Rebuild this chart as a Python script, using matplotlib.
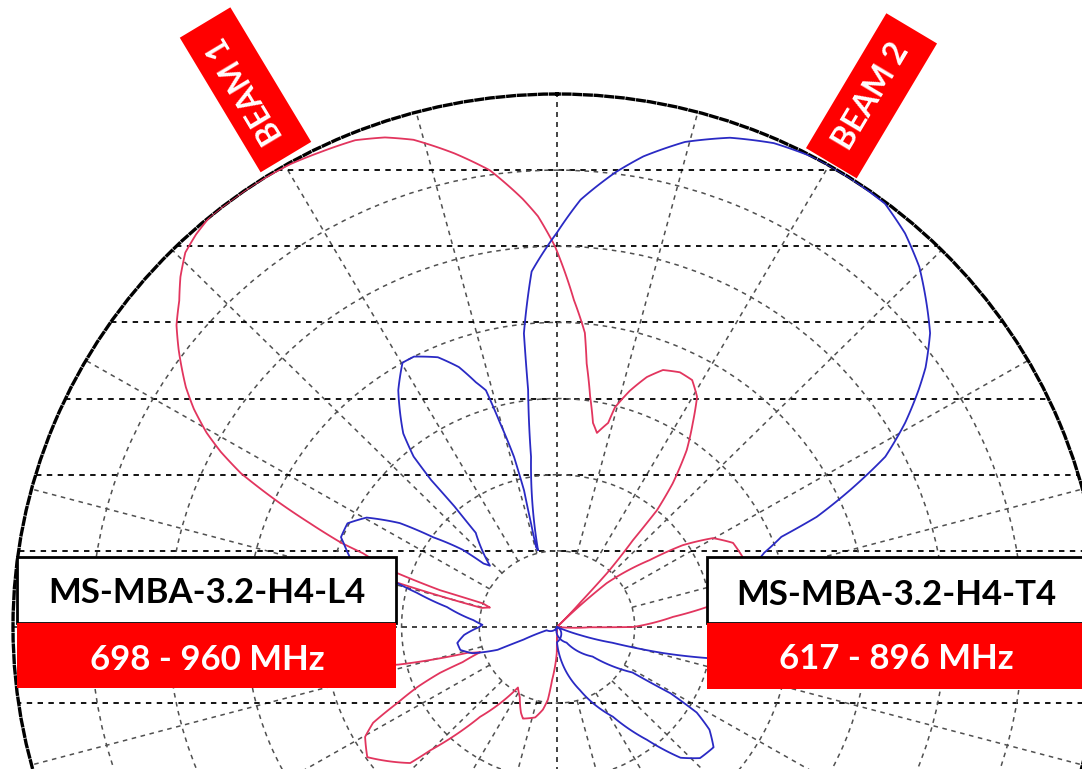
import numpy as np
import matplotlib
matplotlib.use("Agg")
import matplotlib.pyplot as plt
from matplotlib.patches import Rectangle

# ---------------- data: relative gain (dB) vs azimuth (deg, clockwise from boresight) -------------
beam1_az = [-180, -179.5, -174.8, -173, -170.5, -166.7, -160, -157.7, -152.6, -147.7,
            -140, -134.8, -133.4, -125, -120.3, -118, -115.9, -113.7, -111.8, -110.8,
            -108.5, -106.4, -103.6, -100, -92, -85, -79, -74.2, -75.5, -73.5,
            -72, -72.2, -71, -68.8, -68.3, -66.8, -65.3, -63.6, -62, -60.5,
            -58.5, -56.6, -53.2, -51, -48.6, -46.5, -44.2, -42, -39.6, -36.5,
            -34, -29.4, -26, -22.1, -19, -16.1, -12, -8.2, -4.5, -2.6,
            -0.3, 2.9, 5.3, 6.3, 8.0, 9.8, 11.4, 13.8, 14.5, 16.8,
            19.4, 22, 25.3, 28.2, 30.8, 33.1, 35.7, 38.3, 40, 40.6,
            42.3, 43, 45, 48, 53.6, 56.4, 59.8, 64, 69, 73,
            78, 82.3, 84.9, 90, 90.5, 95, 180]
beam1_db = [-35, -33.3, -31.5, -30.2, -29.5, -28.9, -28.6, -28.9, -29.8, -30.3,
            -27.3, -23.5, -22.0, -20.1, -20.7, -21.6, -23.6, -25.2, -26.9, -28.5,
            -29.8, -29.0, -24.5, -21.0, -19.3, -20.3, -22.4, -24.4, -30.0, -30.5,
            -30.0, -27.1, -24.1, -21.6, -20.1, -17.7, -15.1, -12.3, -10.5, -9.1,
            -7.6, -6.4, -4.6, -3.5, -2.6, -1.6, -0.7, -0.3, 0, 0,
            0, -0.1, -0.3, -0.5, -1.0, -1.7, -3.2, -4.7, -6.8, -8.0,
            -10.0, -13.5, -15.6, -17.6, -19.7, -21.4, -22.0, -21.2, -20.1, -18.8,
            -17.6, -16.8, -16.5, -16.6, -17.4, -19.0, -20.7, -23.0, -25.0, -27.5,
            -30.2, -32.8, -35, -30.7, -27.6, -25.3, -23.4, -22.4, -22.2, -22.0,
            -23.4, -25.3, -27.5, -30.1, -32.9, -35, -35]

beam2_az = [-13.6, -8.5, -6.8, -6.3, -4.0, 0, 3.1, 7.2, 10.2, 14.5,
            19.1, 23.7, 28.4, 32.5, 37.2, 40.9, 44.6, 47.9, 51.2, 54.3,
            56.2, 59.1, 62.1, 64.5, 66.6, 67.7, 69.9, 75, 82, 90,
            97, 101.9, 104.1, 106.2, 109.6, 113, 180, 168, 160.4, 148.6,
            142, 137.2, 133.1, 128.1, 124.5, 122, 120.8, 121.6, 130.3, 149,
            200, 252, 249, 248.6, 252.4, 256.4, 260.7, 265, 270, 271.7,
            274.8, 280.5, 284, 285.7, 287.5, 289, 291.9, 293, 296.8, 300.4,
            304, 306.5, 309.9, 311.4, 313, 319.8, 320.2, 320, 320.5, 322.1,
            326.7, 330.2, 332.6, 336.6, 339.7, 342, 343.6, 344.7, 346.1, 346.7,
            346.2, 345.6, 346.4]
beam2_db = [-29.8, -23.7, -19.3, -15.6, -11.6, -9.1, -6.9, -4.9, -3.6, -2.1,
            -1.0, -0.3, 0, 0, -0.1, -0.8, -1.8, -3.0, -4.2, -5.8,
            -7.0, -8.9, -11.1, -14.1, -16.8, -19.4, -20.8, -22.8, -23.5, -23.5,
            -24.2, -25.1, -28.0, -31.3, -33.4, -35, -34.0, -31.9, -30.6, -28.1,
            -25.6, -23.3, -22.4, -22.2, -23.1, -24.4, -26.5, -29.3, -32.0, -33.8,
            -35, -34.3, -32.7, -30.9, -29.3, -28.6, -28.5, -29.0, -30.0, -30.2,
            -29.6, -27.8, -25.7, -24.3, -22.4, -20.9, -20.2, -19.9, -19.9, -20.8,
            -22.8, -25.1, -27.1, -28.7, -29.1, -26.9, -24.7, -22.4, -20.5, -18.9,
            -16.4, -15.0, -15.0, -15.7, -16.8, -18.1, -18.8, -21.1, -23.5, -25.8,
            -28.0, -29.6, -29.8]

ring_db = [-30, -25, -20, -15, -10, -5]
db_min, db_max = -35, 0
spoke_step_deg = 15
hline_levels = [6, 5, 4, 3, 2, 1, -1]      # horizontal guide lines, in ring units
n_rings = 7

beam_labels = ["BEAM 1", "BEAM 2"]
left_model, left_band = "MS-MBA-3.2-H4-L4", "698 - 960 MHz"
right_model, right_band = "MS-MBA-3.2-H4-T4", "617 - 896 MHz"

# ---------------- figure ----------------
W, H = 1082, 769
fig = plt.figure(figsize=(W / 100, H / 100), dpi=100)
fig.patch.set_facecolor("white")

cx, cy, rx, ry = 557, 627, 544, 533
ax = fig.add_axes([(cx - rx) / W, (H - cy - ry) / H, 2 * rx / W, 2 * ry / H],
                  projection="polar")
ax.set_aspect("auto")
ax.set_theta_zero_location("N")
ax.set_theta_direction(-1)
ax.set_ylim(db_min, db_max)
ax.set_thetagrids(np.arange(0, 360, spoke_step_deg))
ax.set_xticklabels([])
ax.set_rgrids(ring_db)
ax.set_yticklabels([])
ax.tick_params(length=0)
ax.xaxis.grid(False)
ax.yaxis.grid(True, color="#505050", linestyle=(0, (3, 3)), linewidth=1.1)
sp = ax.spines["polar"]
sp.set_linestyle((0, (2.0, 1.2)))
sp.set_linewidth(2.4)
sp.set_edgecolor("black")

GRID_DASH = (0, (3, 3))
# spokes (cardinal ones run through the centre, others start at the first ring)
for a in np.arange(0, 360, spoke_step_deg):
    r0 = db_min if a % 90 == 0 else ring_db[0]
    col = "#222222" if a % 90 == 0 else "#505050"
    ax.plot([np.deg2rad(a)] * 2, [r0, db_max], color=col, linestyle=GRID_DASH,
            linewidth=1.2 if a % 90 == 0 else 1.1, zorder=1)

# horizontal guide lines
for k in hline_levels:
    h = abs(k) / n_rings
    a = np.arccos(h)
    th = np.linspace(-a, a, 400)
    if k < 0:
        th = th + np.pi
    rf = h / np.abs(np.cos(th))
    ax.plot(th, db_min + (db_max - db_min) * rf, color="black",
            linestyle=GRID_DASH, linewidth=1.3, zorder=1)

# patterns (segments interpolated in angle/level space, as on a pattern plotter)
for az, db, col in [(beam1_az, beam1_db, "#e2355e"), (beam2_az, beam2_db, "#2a2ac4")]:
    ln, = ax.plot(np.deg2rad(az), db, color=col, linewidth=1.3, zorder=3)
    ln.get_path()._interpolation_steps = 24

RED = "#ff0000"
FONT = ["Lato", "DejaVu Sans"]

def img_rect(x0, y0, x1, y1, **kw):
    fig.add_artist(Rectangle((x0 / W, 1 - y1 / H), (x1 - x0) / W, (y1 - y0) / H,
                             transform=fig.transFigure, **kw))

# left box
img_rect(17, 557, 396, 623, facecolor="white", edgecolor="black", linewidth=2, zorder=5)
img_rect(17, 623, 396, 688, facecolor=RED, edgecolor="none", zorder=5)
fig.text(207 / W, 1 - 603 / H, left_model, ha="center", va="baseline",
         fontsize=25, fontweight="bold", family=FONT, color="black", zorder=6)
fig.text(207 / W, 1 - 670 / H, left_band, ha="center", va="baseline",
         fontsize=25, fontweight="bold", family=FONT, color="white", zorder=6)

# right box
img_rect(707, 557, 1100, 623, facecolor="white", edgecolor="black", linewidth=2, zorder=5)
img_rect(707, 623, 1100, 689, facecolor=RED, edgecolor="none", zorder=5)
fig.text(896 / W, 1 - 605 / H, right_model, ha="center", va="baseline",
         fontsize=25, fontweight="bold", family=FONT, color="black", zorder=6)
fig.text(896 / W, 1 - 669 / H, right_band, ha="center", va="baseline",
         fontsize=25, fontweight="bold", family=FONT, color="white", zorder=6)

# beam tabs
tabs = [(245.5, 89.8, 121.0), (871.5, 95.8, 59.2)]
for (tx, ty, ang), lab in zip(tabs, beam_labels):
    xi, yi = tx / 100, (H - ty) / 100
    L, Wd = 1.57, 0.59
    fig.add_artist(Rectangle((xi - L / 2, yi - Wd / 2), L, Wd, angle=ang,
                             rotation_point="center", transform=fig.dpi_scale_trans,
                             facecolor=RED, edgecolor="none", zorder=5))
    fig.text(xi, yi, lab, transform=fig.dpi_scale_trans, rotation=ang,
             rotation_mode="anchor", ha="center", va="center", color="white",
             fontsize=23, fontweight="bold", family=FONT, zorder=6)

fig.savefig("out.png", dpi=100, facecolor="white")
